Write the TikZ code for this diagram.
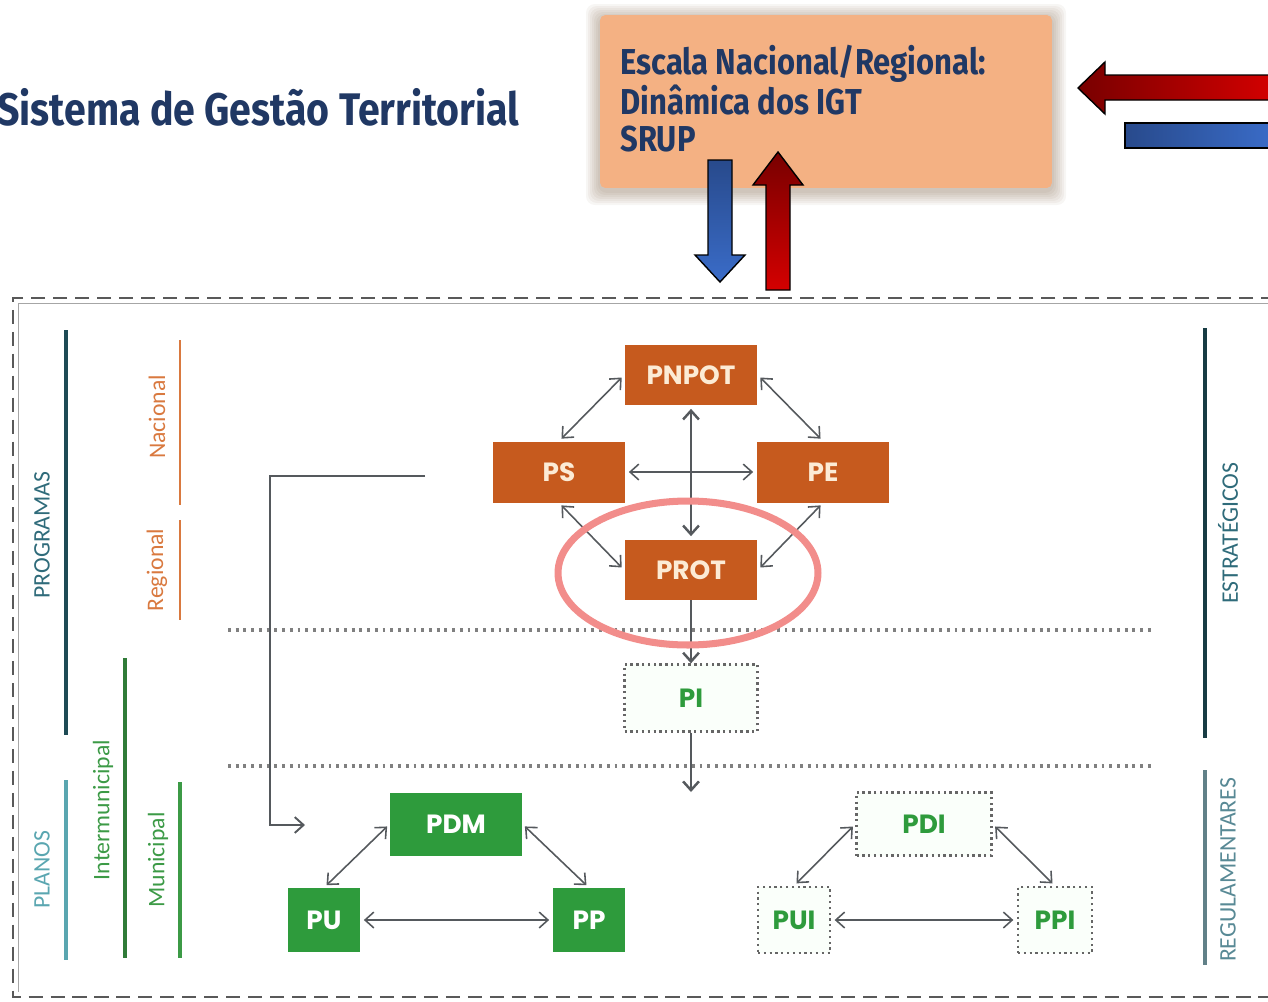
\documentclass[tikz,border=0pt]{standalone}
\usepackage{fontspec}
\setmainfont{Carlito}
\newfontfamily\dinfont{Fira Sans}[FakeStretch=0.86]
\newfontfamily\boxfont{Poppins}
\usetikzlibrary{arrows.meta,positioning}

\definecolor{igtnavy}{HTML}{203864}
\definecolor{peach}{HTML}{F4B183}
\definecolor{planorange}{HTML}{C65A1E}
\definecolor{boxtext}{HTML}{FCEBD5}
\definecolor{planogreen}{HTML}{2E9B3C}
\definecolor{ringpink}{HTML}{F28D8B}
\definecolor{setagray}{HTML}{55595D}
\definecolor{bluedark}{HTML}{284A8C}
\definecolor{bluelight}{HTML}{3A6CC8}
\definecolor{reddark}{HTML}{780000}
\definecolor{redlight}{HTML}{D40000}
\definecolor{progline}{HTML}{1E4B55}
\definecolor{progtext}{HTML}{2F6B7A}
\definecolor{planline}{HTML}{5AA6B0}
\definecolor{escorange}{HTML}{D9793F}
\definecolor{mungreen}{HTML}{3C9A46}

\begin{document}
\begin{tikzpicture}[
  x=0.02cm, y=-0.02cm,
  plano/.style={rectangle, fill=planorange, text=boxtext, inner sep=0pt,
    font=\boxfont\bfseries\fontsize{15}{15}\selectfont, minimum width=2.66cm, minimum height=1.2cm},
  pmun/.style={plano, fill=planogreen, text=white},
  pdot/.style={rectangle, draw=black!60, dotted, line width=1.3pt, fill=green!2, text=planogreen, inner sep=0pt,
    font=\boxfont\bfseries\fontsize{15}{15}\selectfont, minimum width=2.66cm, minimum height=1.34cm},
  lbl/.style={rotate=90, font=\fontsize{13.5}{14}\selectfont},
  arr/.style={{Straight Barb[length=5pt,width=9pt]}-{Straight Barb[length=5pt,width=9pt]},
    draw=setagray, line width=0.9pt, shorten <=2pt, shorten >=2pt},
  varr/.style={-{Straight Barb[length=5pt,width=9pt]}, draw=setagray, line width=1.4pt},
  sep/.style={draw=black!50, line width=1.8pt, dash pattern=on 1.6pt off 2.8pt},
  frame/.style={draw=black!65, line width=1.2pt, dash pattern=on 8pt off 4.5pt},
  blockarr/.style={draw=black, line width=0.8pt}
]
\useasboundingbox (0,0) rectangle (1268,1001);

% titulo
\node[anchor=west, inner sep=0pt, text=igtnavy, font=\dinfont\bfseries\fontsize{26}{26}\selectfont] (titulo) at (-3,107) {Sistema de Gestão Territorial};

% caixa da escala nacional/regional
\foreach \s in {2,4,...,14}
  \fill[black!70!orange, opacity=0.045, rounded corners=5pt] (600-\s,15-\s+3) rectangle (1052+\s,188+\s+3);
\node[rectangle, rounded corners=3pt, fill=peach, minimum width=9.04cm, minimum height=3.46cm] (escala) at (826,101.5) {};
\node[anchor=north west, align=left, inner sep=0pt, text=igtnavy,
  font=\dinfont\bfseries\fontsize{20.5}{21.3}\selectfont] (igt) at (620,45) {Escala Nacional/Regional:\\Dinâmica dos IGT\\SRUP};

% setas largas
\shadedraw[blockarr, top color=bluedark, bottom color=bluelight] (708,160) -- (732,160) -- (732,255) -- (745,255) -- (720,282) -- (695,255) -- (708,255) -- cycle;
\shadedraw[blockarr, top color=reddark, bottom color=redlight] (766,290) -- (790,290) -- (790,185) -- (803,185) -- (778,152) -- (753,185) -- (766,185) -- cycle;
\shadedraw[blockarr, left color=reddark, right color=redlight] (1275,75) -- (1105,75) -- (1105,62) -- (1078,88) -- (1105,114) -- (1105,100) -- (1275,100) -- cycle;
\shadedraw[blockarr, left color=bluedark, right color=bluelight] (1275,123) -- (1125,123) -- (1125,148) -- (1275,148) -- cycle;

% moldura
\draw[frame] (1275,298) -- (13,298) -- (13,997) -- (1275,997);
\draw[black!35, thin] (1275,303) -- (18,303) -- (18,992);

% escalas laterais
\draw[progline, line width=1.9pt] (66,330) -- (66,735);
\node[lbl, text=progtext] (programas) at (42,535) {PROGRAMAS};
\draw[planline, line width=1.9pt] (66,780) -- (66,960);
\node[lbl, text=planline] (planos) at (42,870) {PLANOS};
\draw[escorange, line width=1.5pt] (180,340) -- (180,505);
\node[lbl, text=escorange] (nacional) at (157,417) {Nacional};
\draw[escorange, line width=1.5pt] (180,520) -- (180,620);
\node[lbl, text=escorange] (regional) at (157,570) {Regional};
\draw[mungreen!80!black, line width=1.9pt] (125,658) -- (125,958);
\node[lbl, text=mungreen] (intermun) at (103,810) {Intermunicipal};
\draw[mungreen, line width=1.9pt] (180,782) -- (180,958);
\node[lbl, text=mungreen] (municipal) at (158,860) {Municipal};
\draw[progline!80!black, line width=2.1pt] (1205,328) -- (1205,738);
\node[lbl, text=progtext] (estrat) at (1228,533) {ESTRATÉGICOS};
\draw[progline!70, line width=1.9pt] (1205,770) -- (1205,965);
\node[lbl, text=progtext!80] (regul) at (1228,870) {REGULAMENTARES};

% separadores
\draw[sep] (228,630) -- (1155,630);
\draw[sep] (228,766) -- (1155,766);

% planos nacionais e regionais
\node[plano] (pnpot) at (691,375) {PNPOT};
\node[plano, minimum width=2.64cm, minimum height=1.22cm] (ps) at (559,472) {PS};
\node[plano, minimum width=2.64cm, minimum height=1.22cm] (pe) at (823,472) {PE};
\node[plano] (prot) at (691,570) {PROT};
\node[pdot, below=1.26cm of prot] (pi) {PI};

\draw[arr] (pnpot.west) -- (ps.north);
\draw[arr] (pnpot.east) -- (pe.north);
\draw[arr] (ps.south) -- (prot.west);
\draw[arr] (pe.south) -- (prot.east);
\draw[arr] (ps) -- (pe);
\draw[arr, line width=1.4pt] (pnpot) -- (prot);
\draw[varr] (prot) -- (pi);
\coordinate (pibaixo) at (691,792);
\draw[varr] (pi) -- (pibaixo);

% ligacao aos planos municipais
\coordinate (lini) at (425,476);
\coordinate (lfim) at (305,825);
\draw[varr, line width=1.1pt] (lini) -- ++(-155,0) |- (lfim);

% planos municipais
\node[pmun, minimum width=2.64cm, minimum height=1.26cm] (pdm) at (456,824) {PDM};
\node[pmun, minimum width=1.44cm, minimum height=1.28cm] (pu) at (324,920) {PU};
\node[pmun, minimum width=1.44cm, minimum height=1.28cm] (pp) at (589,920) {PP};
\draw[arr] (pdm.west) -- (pu.north);
\draw[arr] (pdm.east) -- (pp.north);
\draw[arr] (pu) -- (pp);

% planos intermunicipais
\node[pdot, minimum width=2.7cm, minimum height=1.26cm] (pdi) at (924,824) {PDI};
\node[pdot, minimum width=1.44cm, minimum height=1.32cm] (pui) at (794,920) {PUI};
\node[pdot, minimum width=1.48cm, minimum height=1.32cm] (ppi) at (1055,920) {PPI};
\draw[arr] (pdi.west) -- (pui.north);
\draw[arr] (pdi.east) -- (ppi.north);
\draw[arr] (pui) -- (ppi);

% destaque do PROT
\draw[ringpink, line width=4pt] (688,573) ellipse (2.6cm and 1.44cm);
\end{tikzpicture}
\end{document}
